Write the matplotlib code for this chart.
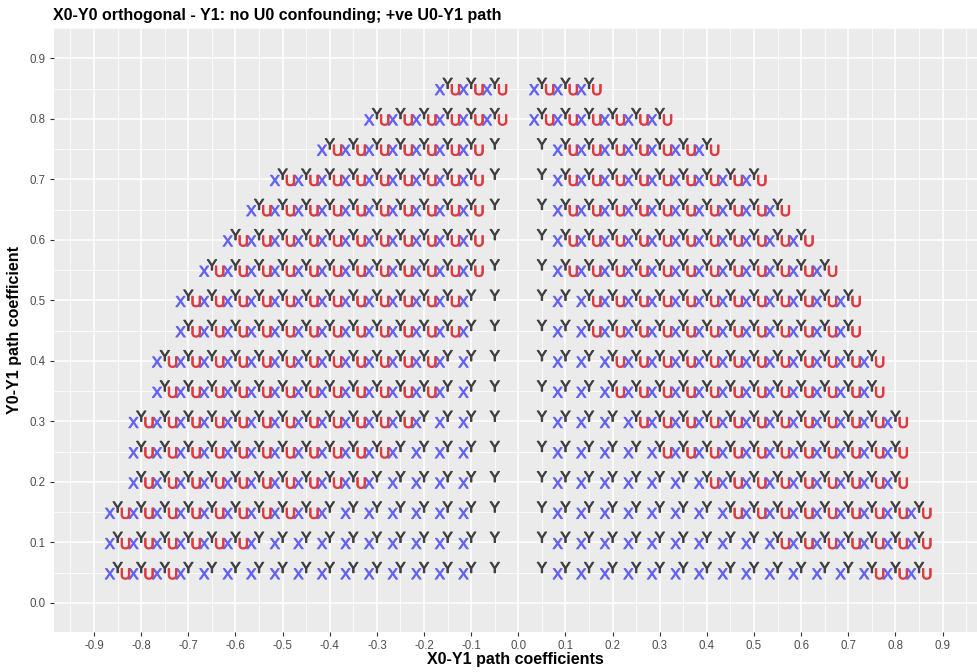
import matplotlib
matplotlib.use("Agg")
import matplotlib.pyplot as plt
import matplotlib.patheffects as pe
from matplotlib.ticker import MultipleLocator

# ---- data ----
title = "X0-Y0 orthogonal - Y1: no U0 confounding; +ve U0-Y1 path"
xlabel = "X0-Y1 path coefficients"
ylabel = "Y0-Y1 path coefficient"

# Y0-Y1 path coefficient rows
rows = [0.05, 0.10, 0.15, 0.20, 0.25, 0.30, 0.35, 0.40, 0.45,
        0.50, 0.55, 0.60, 0.65, 0.70, 0.75, 0.80, 0.85]
# largest |X0-Y1| value present in each row (both sides)
row_xmax = [0.85, 0.85, 0.85, 0.80, 0.80, 0.80, 0.75, 0.75, 0.70,
            0.70, 0.65, 0.60, 0.55, 0.50, 0.40, 0.30, 0.15]
# smallest |x| at which the blue "X" flag appears
x_flag_from = [0.10, 0.10, 0.10, 0.10, 0.10, 0.10, 0.10, 0.10, 0.10,
               0.10, 0.10, 0.10, 0.10, 0.10, 0.10, 0.05, 0.05]
# smallest |x| at which the red "U" flag appears, positive side
u_flag_from_pos = [0.75, 0.55, 0.45, 0.40, 0.30, 0.25, 0.20, 0.20, 0.15,
                   0.15, 0.10, 0.10, 0.10, 0.10, 0.10, 0.05, 0.05]
# smallest |x| at which the red "U" flag appears, negative side
u_flag_from_neg = [0.75, 0.60, 0.45, 0.35, 0.30, 0.25, 0.20, 0.20, 0.15,
                   0.15, 0.10, 0.10, 0.10, 0.10, 0.10, 0.05, 0.05]
x_step = 0.05

xticks = [-0.9, -0.8, -0.7, -0.6, -0.5, -0.4, -0.3, -0.2, -0.1, 0.0,
          0.1, 0.2, 0.3, 0.4, 0.5, 0.6, 0.7, 0.8, 0.9]
yticks = [0.0, 0.1, 0.2, 0.3, 0.4, 0.5, 0.6, 0.7, 0.8, 0.9]

# ---- style ----
FONT = ["Liberation Sans", "DejaVu Sans"]
plt.rcParams["font.family"] = FONT
col_X = "#6363F4"
col_Y = "#404040"
col_U = "#E03A40"
fs_letter = 11

W, H = 977, 672
fig = plt.figure(figsize=(W / 100, H / 100), dpi=100)
ax = fig.add_axes([54 / W, 40 / H, (W - 54) / W, (632 - 28) / H])
ax.set_facecolor("#EBEBEB")
ax.set_xlim(-0.985, 0.973)
ax.set_ylim(-0.048, 0.950)

ax.xaxis.set_minor_locator(MultipleLocator(0.05))
ax.yaxis.set_minor_locator(MultipleLocator(0.05))
ax.set_xticks(xticks)
ax.set_xticklabels([f"{v:.1f}" for v in xticks])
ax.set_yticks(yticks)
ax.set_yticklabels([f"{v:.1f}" for v in yticks])
ax.grid(which="major", color="white", linewidth=1.1)
ax.grid(which="minor", color="white", linewidth=0.55)
ax.set_axisbelow(True)
for s in ax.spines.values():
    s.set_visible(False)
ax.tick_params(which="major", length=3, width=0.8, color="#333333",
               labelsize=8.3, labelcolor="#4D4D4D", pad=3)
ax.tick_params(which="minor", length=0)

dx = 0.0165    # horizontal offset of X / U letters
dy_y = 0.0065  # lift of Y letter
dy_xu = -0.004  # drop of X / U letters


def thick(color):
    return [pe.withStroke(linewidth=0.7, foreground=color)]


for yv, xm, xf, upos, uneg in zip(rows, row_xmax, x_flag_from,
                                  u_flag_from_pos, u_flag_from_neg):
    n = int(round(xm / x_step))
    for k in range(1, n + 1):
        mag = k * x_step
        for sign, ufrom in ((1, upos), (-1, uneg)):
            xv = sign * mag
            if mag >= xf - 1e-9:
                ax.text(xv - dx, yv + dy_xu, "X", color=col_X,
                        fontsize=fs_letter, ha="center", va="center",
                        path_effects=thick(col_X))
            if mag >= ufrom - 1e-9:
                ax.text(xv + dx, yv + dy_xu, "U", color=col_U,
                        fontsize=fs_letter, ha="center", va="center",
                        path_effects=thick(col_U))
            ax.text(xv, yv + dy_y, "Y", color=col_Y, fontsize=fs_letter,
                    ha="center", va="center", path_effects=thick(col_Y))

fig.text(53 / W, 1 - 20 / H, title, fontsize=11.5, fontweight="bold",
         ha="left", va="baseline")
fig.text((54 + W) / 2 / W, 1 - 664 / H, xlabel, fontsize=11.5,
         fontweight="bold", ha="center", va="baseline")
fig.text(15 / W, 1 - 330 / H, ylabel, fontsize=11.5, fontweight="bold",
         ha="center", va="center", rotation=90)

fig.savefig("out.png", dpi=100)
